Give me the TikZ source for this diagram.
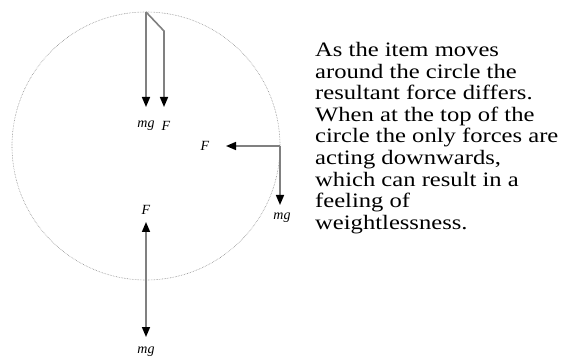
\documentclass[tikz,border=0pt]{standalone}
\usepackage{fontspec}
\setmainfont{Liberation Serif}
\newfontfamily\widefont[FakeStretch=1.2]{Liberation Serif}
\usetikzlibrary{arrows.meta}

\begin{document}
\begin{tikzpicture}[%
        % one unit is one pixel of the reference
        x=1pt,y=-1pt,
        forceline/.style={draw=forcegray,line width=1.6pt,-{Triangle[length=10pt,width=8pt,black]}},
        forcelabel/.style={font=\fontsize{14}{14}\selectfont\itshape,inner sep=0pt},
        ]

        \definecolor{forcegray}{RGB}{128, 128, 128}
        \definecolor{orbitgray}{RGB}{140, 140, 140}

        \useasboundingbox (0,0) rectangle (573,358);

        \def\Cx{146};
        \def\Cy{146};
        \def\R{134};
        \coordinate (C) at (\Cx,\Cy);  % centre of the circle
        \coordinate (T) at (\Cx,\Cy-\R);  % top of the circle
        \coordinate (Tb) at (\Cx+18,\Cy-\R+19);  % bend of the top F line
        \coordinate (Rt) at (\Cx+\R,\Cy);  % right of the circle
        \coordinate (B) at (\Cx,\Cy+\R);  % bottom of the circle

        % path of the item
        \draw[orbitgray,line width=0.6pt,densely dotted] (C) circle (\R);

        % force tips
        \coordinate (Tmg) at (\Cx,107);
        \coordinate (TF) at (\Cx+18,107);
        \coordinate (RF) at (226,\Cy);
        \coordinate (Rmg) at (\Cx+\R,205);
        \coordinate (BF) at (\Cx,222);
        \coordinate (Bmg) at (\Cx,337);

        % forces at the top
        \draw[forceline] (T) -- (Tmg);
        \draw[forceline] (T) -- (Tb) -- (TF);
        \node[forcelabel] (lTmg) at (\Cx,126) {mg};
        \node[forcelabel] (lTF) at (\Cx+20,126) {F};

        % forces at the side
        \draw[forceline] (Rt) -- (RF);
        \draw[forceline] (Rt) -- (Rmg);
        \node[forcelabel] (lRF) at (205,\Cy) {F};
        \node[forcelabel] (lRmg) at (\Cx+\R+2,218) {mg};

        % forces at the bottom
        \draw[forceline] (B) -- (BF);
        \draw[forceline] (B) -- (Bmg);
        \node[forcelabel] (lBF) at (\Cx,210) {F};
        \node[forcelabel] (lBmg) at (\Cx,352) {mg};

        % explanation
        \node[anchor=north west,align=left,inner sep=0pt,
              font=\widefont\fontsize{20.5}{21.6}\selectfont] (txt) at (315,42)
            {As the item moves\\
             around the circle the\\
             resultant force differs.\\
             When at the top of the\\
             circle the only forces are\\
             acting downwards,\\
             which can result in a\\
             feeling of\\
             weightlessness.};

    \end{tikzpicture}
\end{document}
